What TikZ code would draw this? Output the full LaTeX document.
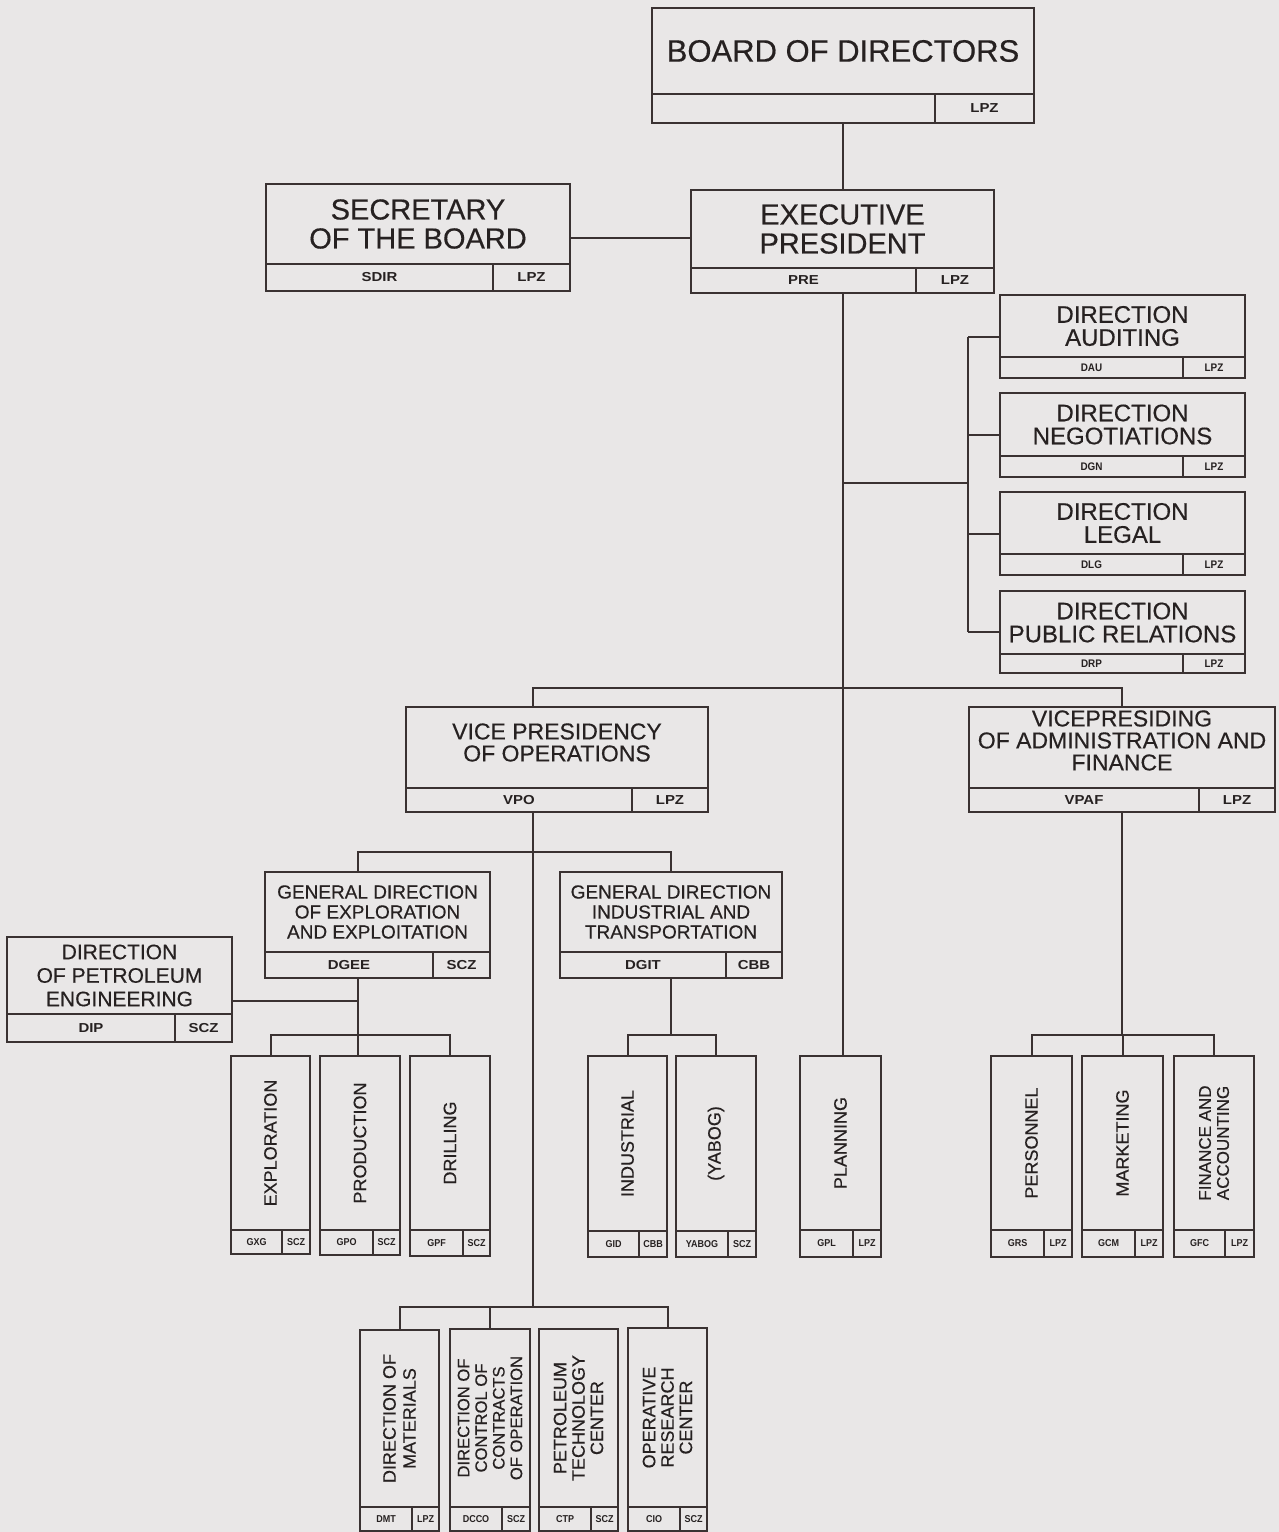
\documentclass[tikz,border=0pt]{standalone}
\usepackage{fontspec}
\setmainfont{Liberation Sans}[FakeBold=0.4]
\newfontfamily\codefont[FakeStretch=1.15]{Liberation Sans}
\newfontfamily\scodefont[FakeStretch=0.9]{Liberation Sans}
\definecolor{paper}{RGB}{233,231,231}
\definecolor{linec}{RGB}{58,50,50}
\definecolor{txtc}{RGB}{38,33,33}
\newcommand\fsz[2]{\fontsize{#1}{#2}\selectfont}
\tikzset{
  orgbx/.style={draw=linec, line width=1pt, inner sep=0pt, outer sep=0pt},
  conn/.style={draw=linec, line width=1pt},
  lbl/.style={text=txtc, align=center, inner sep=0pt},
  vlbl/.style={lbl, rotate=90},
  codebig/.style={text=txtc, inner sep=0pt, font=\codefont\bfseries\fsz{6.5}{7}},
  codemid/.style={text=txtc, inner sep=0pt, font=\scodefont\bfseries\fsz{5.5}{6}},
  codesmall/.style={text=txtc, inner sep=0pt, font=\scodefont\bfseries\fsz{5}{6}},
  cd/.style={codebig}
}
% name, left, top, right, bottom, divider y, split x, code, location
\newcommand\orgbox[9]{%
  \node[orgbx, anchor=north west, minimum width={(#4-#2)*0.5pt}, minimum height={(#5-#3)*0.5pt}] (#1) at (#2,#3) {};
  \draw[conn] (#2,#6) -- (#4,#6);
  \draw[conn] (#7,#6) -- (#7,#5);
  \coordinate (#1-m) at ({(#2+#4)/2},{(#3+#6)/2});
  \coordinate (#1-c) at ({(#2+#7)/2},{(#6+#5)/2});
  \coordinate (#1-l) at ({(#7+#4)/2},{(#6+#5)/2});
  \node[cd] (#1-cc) at (#1-c) {#8};
  \node[cd] (#1-lc) at (#1-l) {#9};
}
\begin{document}
\begin{tikzpicture}[x=0.5pt, y=-0.5pt]
\fill[paper] (0,0) rectangle (1279,1532);
\useasboundingbox (0,0) rectangle (1279,1532);

% ---- boxes ----
\tikzset{cd/.style={codebig}}
\orgbox{board}{652}{8}{1034}{123}{94}{935}{}{LPZ}
\orgbox{sec}{266}{184}{570}{291}{264}{493}{SDIR}{LPZ}
\orgbox{exec}{691}{190}{994}{293}{268}{916}{PRE}{LPZ}
\orgbox{vpo}{406}{707}{708}{812}{788}{632}{VPO}{LPZ}
\orgbox{vpaf}{969}{707}{1275}{812}{788}{1199}{VPAF}{LPZ}
\orgbox{dgee}{265}{872}{490}{978}{952}{433}{DGEE}{SCZ}
\orgbox{dgit}{560}{872}{782}{978}{952}{726}{DGIT}{CBB}
\orgbox{dip}{7}{937}{232}{1042}{1014}{175}{DIP}{SCZ}
\tikzset{cd/.style={codemid}}
\orgbox{dau}{1000}{295}{1245}{378}{357}{1183}{DAU}{LPZ}
\orgbox{dgn}{1000}{393}{1245}{477}{456}{1183}{DGN}{LPZ}
\orgbox{dlg}{1000}{492}{1245}{575}{554}{1183}{DLG}{LPZ}
\orgbox{drp}{1000}{591}{1245}{673}{654}{1183}{DRP}{LPZ}
\tikzset{cd/.style={codesmall}}
\orgbox{expl}{231}{1056}{310}{1254}{1230}{282}{GXG}{SCZ}
\orgbox{prod}{320}{1056}{400}{1255}{1230}{373}{GPO}{SCZ}
\orgbox{drill}{410}{1056}{490}{1256}{1230}{463}{GPF}{SCZ}
\orgbox{indu}{588}{1056}{667}{1257}{1231}{639}{GID}{CBB}
\orgbox{yabog}{676}{1056}{756}{1257}{1231}{728}{YABOG}{SCZ}
\orgbox{plan}{800}{1056}{881}{1257}{1230}{853}{GPL}{LPZ}
\orgbox{pers}{991}{1056}{1072}{1257}{1230}{1044}{GRS}{LPZ}
\orgbox{mkt}{1082}{1056}{1163}{1257}{1230}{1135}{GCM}{LPZ}
\orgbox{fin}{1174}{1056}{1254}{1257}{1230}{1225}{GFC}{LPZ}
\orgbox{dmt}{360}{1330}{439}{1531}{1507}{412}{DMT}{LPZ}
\orgbox{dcco}{450}{1329}{530}{1531}{1507}{502}{DCCO}{SCZ}
\orgbox{ctp}{539}{1329}{618}{1531}{1507}{591}{CTP}{SCZ}
\orgbox{cio}{628}{1328}{707}{1531}{1507}{680}{CIO}{SCZ}

% ---- main texts ----
\node[lbl, font=\fsz{15.5}{17}] (board-t) at (board-m) {BOARD OF DIRECTORS};
\node[lbl, font=\fsz{14.5}{14.5}] (sec-t) at (sec-m) {SECRETARY\\OF THE BOARD};
\node[lbl, font=\fsz{14.5}{14.5}] (exec-t) at (exec-m) {EXECUTIVE\\PRESIDENT};
\node[lbl, font=\fsz{12}{11.5}] (dau-t) at (dau-m) {DIRECTION\\AUDITING};
\node[lbl, font=\fsz{12}{11.5}] (dgn-t) at (dgn-m) {DIRECTION\\NEGOTIATIONS};
\node[lbl, font=\fsz{12}{11.5}] (dlg-t) at (dlg-m) {DIRECTION\\LEGAL};
\node[lbl, font=\fsz{12}{11.5}] (drp-t) at (drp-m) {DIRECTION\\PUBLIC RELATIONS};
\node[lbl, font=\fsz{11.5}{11}, yshift=2.5pt] (vpo-t) at (vpo-m) {VICE PRESIDENCY\\OF OPERATIONS};
\node[lbl, font=\fsz{11.5}{11}, yshift=3.5pt] (vpaf-t) at (vpaf-m) {VICEPRESIDING\\OF ADMINISTRATION AND\\FINANCE};
\node[lbl, font=\fsz{9.5}{10}] (dgee-t) at (dgee-m) {GENERAL DIRECTION\\OF EXPLORATION\\AND EXPLOITATION};
\node[lbl, font=\fsz{9.5}{10}] (dgit-t) at (dgit-m) {GENERAL DIRECTION\\INDUSTRIAL AND\\TRANSPORTATION};
\node[lbl, font=\fsz{10.5}{11.75}] (dip-t) at (dip-m) {DIRECTION\\OF PETROLEUM\\ENGINEERING};
\node[vlbl, font=\fsz{9}{10}] (expl-t) at (expl-m) {EXPLORATION};
\node[vlbl, font=\fsz{9}{10}] (prod-t) at (prod-m) {PRODUCTION};
\node[vlbl, font=\fsz{9}{10}] (drill-t) at (drill-m) {DRILLING};
\node[vlbl, font=\fsz{9}{10}] (indu-t) at (indu-m) {INDUSTRIAL};
\node[vlbl, font=\fsz{9}{10}] (yabog-t) at (yabog-m) {(YABOG)};
\node[vlbl, font=\fsz{9}{10}] (plan-t) at (plan-m) {PLANNING};
\node[vlbl, font=\fsz{9}{10}] (pers-t) at (pers-m) {PERSONNEL};
\node[vlbl, font=\fsz{9}{10}] (mkt-t) at (mkt-m) {MARKETING};
\node[vlbl, font=\fsz{8.5}{9}] (fin-t) at (fin-m) {FINANCE AND\\ACCOUNTING};
\node[vlbl, font=\fsz{9}{10}] (dmt-t) at (dmt-m) {DIRECTION OF\\MATERIALS};
\node[vlbl, font=\fsz{8.3}{8.8}] (dcco-t) at (dcco-m) {DIRECTION OF\\CONTROL OF\\CONTRACTS\\OF OPERATION};
\node[vlbl, font=\fsz{9}{9.2}] (ctp-t) at (ctp-m) {PETROLEUM\\TECHNOLOGY\\CENTER};
\node[vlbl, font=\fsz{9}{9.2}] (cio-t) at (cio-m) {OPERATIVE\\RESEARCH\\CENTER};

% ---- connectors ----
\draw[conn] (board.south) -- (board.south |- exec.north);
\draw[conn] (sec.east) -- (sec.east -| exec.west);
\draw[conn] (exec.south) -- (exec.south |- plan.north);

\coordinate (dj) at (968,483);
\draw[conn] (exec.south |- dj) -- (dj);
\draw[conn] (dj |- dau.west) -- (dj |- drp.west);
\foreach \bx in {dau,dgn,dlg,drp} \draw[conn] (dj |- \bx.west) -- (\bx.west);

\coordinate (vbus) at (533,688);
\draw[conn] (vbus |- vpo.north) -- (vbus) -- (vbus -| vpaf.north) -- (vpaf.north);

\coordinate (bbus) at (533,1307);
\draw[conn] (vbus |- vpo.south) -- (bbus);
\draw[conn] (dmt.north) -- (dmt.north |- bbus) -- (cio.north |- bbus) -- (cio.north);
\draw[conn] (dcco.north) -- (dcco.north |- bbus);

\coordinate (gbus) at (358,852);
\draw[conn] (gbus |- dgee.north) -- (gbus) -- (gbus -| dgit.north) -- (dgit.north);

\coordinate (ebus) at (358,1035);
\draw[conn] (gbus |- dgee.south) -- (ebus |- prod.north);
\draw[conn] (expl.north) -- (expl.north |- ebus) -- (drill.north |- ebus) -- (drill.north);
\coordinate (dipj) at (358,1001);
\draw[conn] (dipj) -- (dipj -| dip.east);

\coordinate (ibus) at (671,1035);
\draw[conn] (dgit.south) -- (dgit.south |- ibus);
\draw[conn] (indu.north) -- (indu.north |- ibus) -- (yabog.north |- ibus) -- (yabog.north);

\coordinate (fbus) at (1122,1035);
\draw[conn] (vpaf.south) -- (vpaf.south |- fbus);
\draw[conn] (pers.north) -- (pers.north |- fbus) -- (fin.north |- fbus) -- (fin.north);
\draw[conn] (mkt.north) -- (mkt.north |- fbus);
\end{tikzpicture}
\end{document}
